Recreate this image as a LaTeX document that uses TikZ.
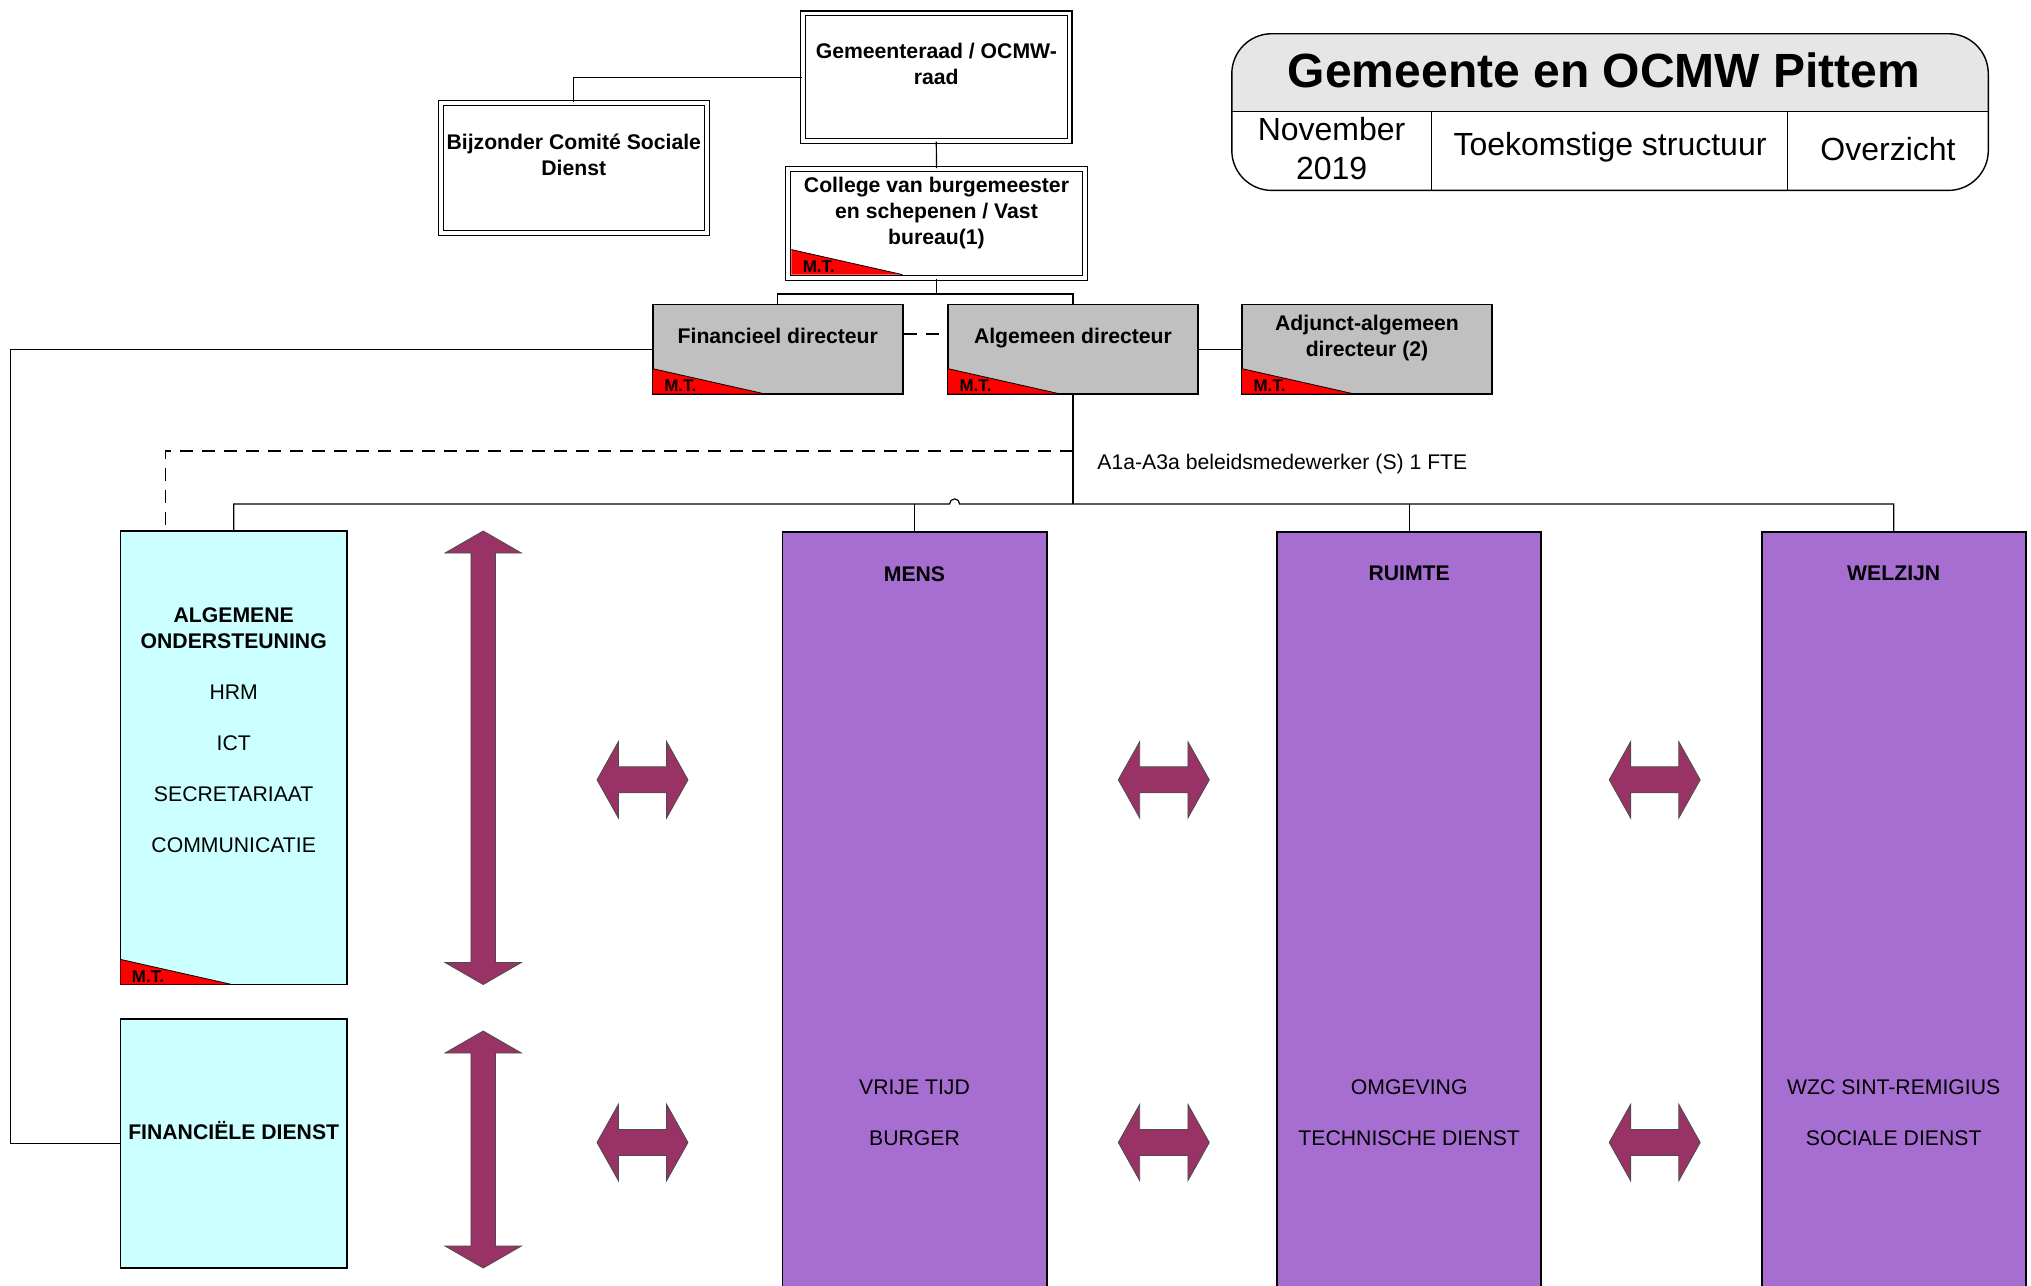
\documentclass[tikz,border=0pt]{standalone}
\usepackage{fontspec}
\setmainfont{Liberation Sans}
\definecolor{dirgray}{HTML}{C0C0C0}
\definecolor{dienstcyan}{HTML}{CCFFFF}
\definecolor{pijlerpurple}{HTML}{A66ED1}
\definecolor{pijlfill}{HTML}{993366}
\definecolor{titelgray}{HTML}{E6E6E6}
\newcommand{\boxfont}{\fontsize{10.6pt}{13pt}\selectfont}
% red M.T. corner flag at a south west corner
\newcommand{\mtflag}[2]{%
  \fill[red] ([shift={(0.5pt,13pt)}]#1) -- ([shift={(0.5pt,0.5pt)}]#1) -- ([shift={(56pt,0.5pt)}]#1) -- cycle;
  \draw[line width=0.4pt] ([shift={(0.5pt,13pt)}]#1) -- ([shift={(56pt,0.5pt)}]#1);
  \node[mt] (#2) at ([shift={(6pt,1.6pt)}]#1) {M.T.};}
% vertical double arrow: x, top, bottom
\newcommand{\vpijl}[3]{%
  \filldraw[fill=pijlfill, draw=black!70, line width=0.4pt] (#1,#2) -- ({#1+38.2},{#2+22}) -- ({#1+12.3},{#2+22})
    -- ({#1+12.3},{#3-22}) -- ({#1+38.2},{#3-22}) -- (#1,#3) -- ({#1-38.2},{#3-22}) -- ({#1-12.3},{#3-22})
    -- ({#1-12.3},{#2+22}) -- ({#1-38.2},{#2+22}) -- cycle;}

\begin{document}
\begin{tikzpicture}[x=0.5pt, y=-0.5pt,
  main node/.style={rectangle, draw, line width=0.9pt, align=center, font=\boxfont\bfseries, inner sep=0pt},
  raad node/.style={main node, line width=0.6pt, double, double distance=1.8pt},
  dir node/.style={main node, fill=dirgray, minimum width=125pt, minimum height=44.7pt},
  dienst node/.style={main node, fill=dienstcyan, minimum width=113.3pt},
  pijler node/.style={main node, fill=pijlerpurple, minimum width=132.1pt, minimum height=384.5pt, anchor=north},
  txt/.style={align=center, font=\boxfont, inner sep=0pt},
  verbinding/.style={line width=0.6pt},
  stippel/.style={line width=0.7pt, dash pattern=on 6.5pt off 4.5pt},
  mt/.style={font=\fontsize{8.5pt}{9pt}\selectfont\bfseries, inner sep=0pt, anchor=base west},
  harrow/.pic={\filldraw[fill=pijlfill, draw=black!70, line width=0.4pt] (-45.5,0) -- (-24.1,-38.2) -- (-24.1,-13)
    -- (24.1,-13) -- (24.1,-38.2) -- (45.5,0) -- (24.1,38.2) -- (24.1,13) -- (-24.1,13) -- (-24.1,38.2) -- cycle;}]

  \clip (0,0) rectangle (2031,1286);

  % Title block
  \begin{scope}
    \clip[rounded corners=20pt] (1231.8,33.7) rectangle (1988.3,190.4);
    \fill[titelgray] (1231.8,33.7) rectangle (1988.3,111.4);
  \end{scope}
  \draw[line width=0.7pt, rounded corners=20pt] (1231.8,33.7) rectangle (1988.3,190.4);
  \draw[line width=0.7pt] (1231.8,111.4) -- (1988.3,111.4)
    (1431.3,111.4) -- (1431.3,190.4)
    (1787.5,111.4) -- (1787.5,190.4);
  \node[inner sep=0pt, font=\fontsize{24pt}{28pt}\selectfont\bfseries] (titel) at (1604,70) {Gemeente en OCMW Pittem};
  \node[inner sep=0pt, align=center, font=\fontsize{16pt}{19.5pt}\selectfont] (datum) at (1331.6,149) {November\\2019};
  \node[inner sep=0pt, font=\fontsize{16pt}{19.5pt}\selectfont] (sub) at (1610,147) {Toekomstige structuur};
  \node[inner sep=0pt, font=\fontsize{16pt}{19.5pt}\selectfont] (view) at (1888,149) {Overzicht};

  % Define nodes
  \node[raad node, minimum width=133.3pt, minimum height=63.8pt] (gr) at (936.3,77.1) {Gemeenteraad / OCMW-\\raad\\~};
  \node[raad node, minimum width=133pt, minimum height=65pt] (bcsd) at (573.8,167.7) {Bijzonder Comité Sociale\\Dienst\\~};
  \node[raad node, minimum width=148.5pt, minimum height=54.6pt] (cbs) at (936.5,223.4) {College van burgemeester\\en schepenen / Vast\\bureau(1)\\~};
  \node[dir node] (fd) at (777.8,349.1) {Financieel directeur\\~};
  \node[dir node] (ad) at (1073,349.1) {Algemeen directeur\\~};
  \node[dir node] (aad) at (1367,349.1) {Adjunct-algemeen\\directeur (2)\\~};
  \node[dienst node, minimum height=226.8pt] (ao) at (233.7,757.7) {};
  \node[dienst node, minimum height=124.5pt] (fdienst) at (233.7,1143.5) {FINANCIËLE DIENST\\~};
  \node[pijler node] (mens) at (914.5,531) {};
  \node[pijler node] (ruimte) at (1409.2,531) {};
  \node[pijler node] (welzijn) at (1893.7,531) {};

  % Texts in the columns
  \node[txt] (aotxt) at (233.7,730.5) {\textbf{ALGEMENE}\\\textbf{ONDERSTEUNING}\\[12.5pt]HRM\\[12.5pt]ICT\\[12.5pt]SECRETARIAAT\\[12.5pt]COMMUNICATIE};
  \node[txt, font=\boxfont\bfseries] (menst) at (914.5,573.8) {MENS};
  \node[txt, font=\boxfont\bfseries] (ruimtet) at (1409.2,573.8) {RUIMTE};
  \node[txt, font=\boxfont\bfseries] (welzijnt) at (1893.7,573.8) {WELZIJN};
  \node[txt] (menstxt) at (914.5,1112.7) {VRIJE TIJD\\[12.9pt]BURGER};
  \node[txt] (ruimtetxt) at (1409.2,1112.7) {OMGEVING\\[12.9pt]TECHNISCHE DIENST};
  \node[txt] (welzijntxt) at (1893.7,1112.7) {WZC SINT-REMIGIUS\\[12.9pt]SOCIALE DIENST};

  % M.T. flags
  \coordinate (cbsin) at ([shift={(1.5pt,1.5pt)}]cbs.south west);
  \mtflag{cbsin}{mtcbs}
  \mtflag{fd.south west}{mtfd}
  \mtflag{ad.south west}{mtad}
  \mtflag{aad.south west}{mtaad}
  \mtflag{ao.south west}{mtao}

  % Define edges
  \coordinate (b1) at (936.5,294);
  \coordinate (links) at (10.4,349.1);
  \coordinate (stip) at (1073,450.8);
  \coordinate (bus) at (1073,503.9);
  \coordinate (jmp) at (954.6,503.9);
  \draw[verbinding] (gr.west) -| (bcsd.north);
  \draw[verbinding] (gr.south) -- (cbs.north);
  \draw[verbinding] (cbs.south) -- (b1);
  \draw[verbinding] (fd.north) |- (b1) -| (ad.north);
  \draw[stippel] ([yshift=7.5pt]fd.east) -- ([yshift=7.5pt]ad.west);
  \draw[verbinding] (ad.east) -- (aad.west);
  \draw[verbinding] (fd.west) -- (links) |- (fdienst.west);
  \draw[verbinding] (ad.south) -- (bus);
  \draw[stippel] (stip) -| ([xshift=-34pt]ao.north);
  \node[txt, anchor=west] (beleid) at (1097,463.7) {A1a-A3a beleidsmedewerker (S) 1 FTE};
  \draw[verbinding] (ao.north) |- ([xshift=-2.5pt]jmp) arc[start angle=180, end angle=0, radius=2.5pt] -| (welzijn.north);
  \draw[verbinding] (mens.north) -- (mens.north |- bus);
  \draw[verbinding] (ruimte.north) -- (ruimte.north |- bus);

  % Arrows between the columns
  \vpijl{483.2}{531}{984.5}
  \vpijl{483.2}{1031}{1268}
  \foreach \x in {642.5,1163.8,1654.7}
    \foreach \y in {779.8,1142.5}
      \pic at (\x,\y) {harrow};
\end{tikzpicture}
\end{document}
